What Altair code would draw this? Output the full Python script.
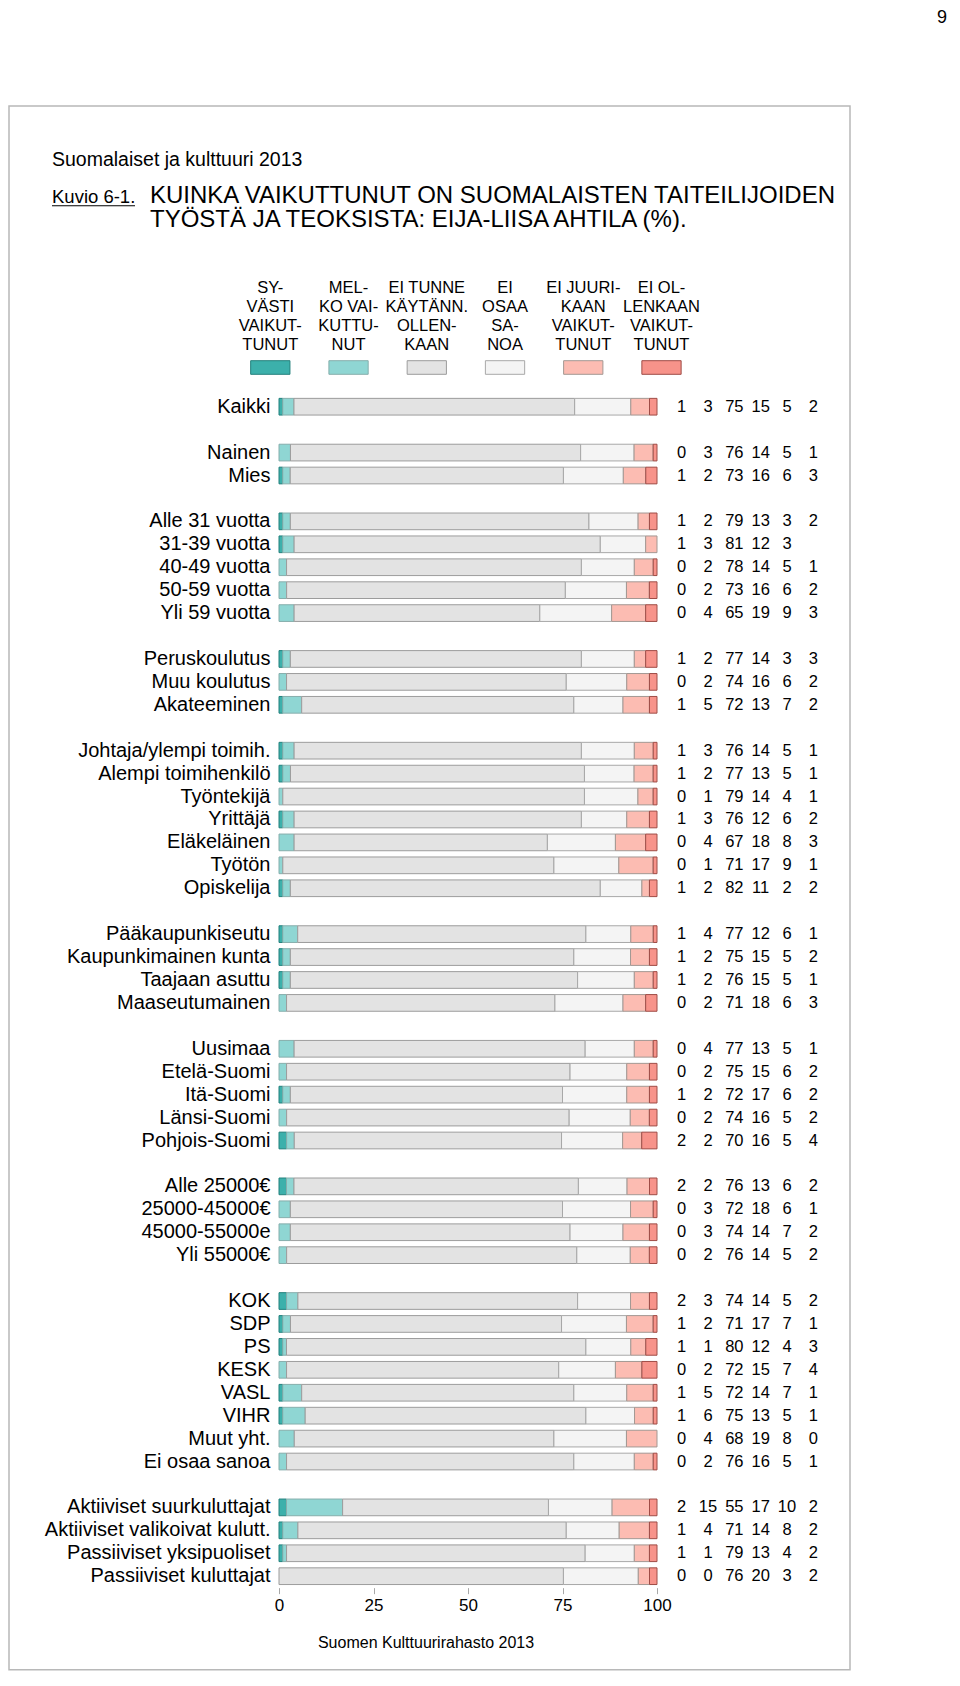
import altair as alt
import pandas as pd

# ---------------- data ----------------
group_total = ["Kaikki"]
group_gender = ["Nainen", "Mies"]
group_age = ["Alle 31 vuotta", "31-39 vuotta", "40-49 vuotta", "50-59 vuotta", "Yli 59 vuotta"]
group_edu = ["Peruskoulutus", "Muu koulutus", "Akateeminen"]
group_occ = ["Johtaja/ylempi toimih.", "Alempi toimihenkilö", "Työntekijä", "Yrittäjä",
             "Eläkeläinen", "Työtön", "Opiskelija"]
group_area = ["Pääkaupunkiseutu", "Kaupunkimainen kunta", "Taajaan asuttu", "Maaseutumainen"]
group_region = ["Uusimaa", "Etelä-Suomi", "Itä-Suomi", "Länsi-Suomi", "Pohjois-Suomi"]
group_income = ["Alle 25000€", "25000-45000€", "45000-55000e", "Yli 55000€"]
group_party = ["KOK", "SDP", "PS", "KESK", "VASL", "VIHR", "Muut yht.", "Ei osaa sanoa"]
group_culture = ["Aktiiviset suurkuluttajat", "Aktiiviset valikoivat kulutt.",
                 "Passiiviset yksipuoliset", "Passiiviset kuluttajat"]
groups = [group_total, group_gender, group_age, group_edu, group_occ, group_area,
          group_region, group_income, group_party, group_culture]

syvasti = [1, 0, 1, 1, 1, 0, 0, 0, 1, 0, 1, 1, 1, 0, 1, 0, 0, 1, 1, 1, 1, 0,
           0, 0, 1, 0, 2, 2, 0, 0, 0, 2, 1, 1, 0, 1, 1, 0, 0, 2, 1, 1, 0]
melko = [3, 3, 2, 2, 3, 2, 2, 4, 2, 2, 5, 3, 2, 1, 3, 4, 1, 2, 4, 2, 2, 2,
         4, 2, 2, 2, 2, 2, 3, 3, 2, 3, 2, 1, 2, 5, 6, 4, 2, 15, 4, 1, 0]
ei_tunne = [75, 76, 73, 79, 81, 78, 73, 65, 77, 74, 72, 76, 77, 79, 76, 67, 71, 82, 77, 75, 76, 71,
            77, 75, 72, 74, 70, 76, 72, 74, 76, 74, 71, 80, 72, 72, 75, 68, 76, 55, 71, 79, 76]
ei_osaa = [15, 14, 16, 13, 12, 14, 16, 19, 14, 16, 13, 14, 13, 14, 12, 18, 17, 11, 12, 15, 15, 18,
           13, 15, 17, 16, 16, 13, 18, 14, 14, 14, 17, 12, 15, 14, 13, 19, 16, 17, 14, 13, 20]
ei_juurikaan = [5, 5, 6, 3, 3, 5, 6, 9, 3, 6, 7, 5, 5, 4, 6, 8, 9, 2, 6, 5, 5, 6,
                5, 6, 6, 5, 5, 6, 6, 7, 5, 5, 7, 4, 7, 7, 5, 8, 5, 10, 8, 4, 3]
ei_olenkaan = [2, 1, 3, 2, None, 1, 2, 3, 3, 2, 2, 1, 1, 1, 2, 3, 1, 2, 1, 2, 1, 3,
               1, 2, 2, 2, 4, 2, 1, 2, 2, 2, 1, 3, 4, 1, 1, 0, 1, 2, 2, 2, 2]

categories = ["Syvästi vaikuttunut", "Melko vaikuttunut", "Ei tunne käytännössä ollenkaan",
              "Ei osaa sanoa", "Ei juurikaan vaikuttunut", "Ei olenkaan vaikuttunut"]
legend_headers = [
    ["SY-", "VÄSTI", "VAIKUT-", "TUNUT"],
    ["MEL-", "KO VAI-", "KUTTU-", "NUT"],
    ["EI TUNNE", "KÄYTÄNN.", "OLLEN-", "KAAN"],
    ["EI", "OSAA", "SA-", "NOA"],
    ["EI JUURI-", "KAAN", "VAIKUT-", "TUNUT"],
    ["EI OL-", "LENKAAN", "VAIKUT-", "TUNUT"],
]
fill_colors = ["#3cb0ab", "#8fd6d3", "#e3e3e3", "#f4f4f4", "#fcbcb2", "#f7938a"]
stroke_colors = ["#23807c", "#86aeac", "#9c9c9c", "#a8a8a8", "#a39893", "#9e4c46"]
tick_values = [0, 25, 50, 75, 100]

page_title = "Suomalaiset ja kulttuuri 2013"
figure_no = "Kuvio 6-1."
title_lines = ["KUINKA VAIKUTTUNUT ON SUOMALAISTEN TAITEILIJOIDEN",
               "TYÖSTÄ JA TEOKSISTA: EIJA-LIISA AHTILA (%)."]
source_text = "Suomen Kulttuurirahasto 2013"
page_number = "9"

FONT = "Liberation Sans, Arial, Helvetica, sans-serif"

# ---------------- tables ----------------
domain = []
labels = []
for gi, g in enumerate(groups):
    if gi > 0:
        domain.append(f"#{gi}")
    for lab in g:
        domain.append(lab)
        labels.append(lab)

series = [syvasti, melko, ei_tunne, ei_osaa, ei_juurikaan, ei_olenkaan]
recs = []
for ri, lab in enumerate(labels):
    for ci, s in enumerate(series):
        v = s[ri]
        if v is None:
            continue
        recs.append(dict(row=lab, ci=ci, cat=categories[ci], val=v, txt=str(v)))
df = pd.DataFrame(recs)

leg_df = pd.DataFrame({"ci": list(range(6)), "cat": categories})
hdr_recs = []
for ci, lines in enumerate(legend_headers):
    for li, t in enumerate(lines):
        hdr_recs.append(dict(ci=ci, line=li, txt=t))
hdr_df = pd.DataFrame(hdr_recs)

W = 378
H = 1192.4
P_IN = 0.272
yscale = alt.Scale(type="band", domain=domain, paddingInner=P_IN, paddingOuter=P_IN / 2)
fill_scale = alt.Scale(domain=categories, range=fill_colors)
stroke_scale = alt.Scale(domain=categories, range=stroke_colors)

bars = alt.Chart(df).transform_filter("datum.val > 0").mark_bar(strokeWidth=1).encode(
    x=alt.X("val:Q", stack="normalize",
            scale=alt.Scale(domain=[0, 1], nice=False),
            axis=alt.Axis(values=[v / 100 for v in tick_values],
                          labelExpr="format(datum.value*100, 'd')", labelFlush=False,
                          title=None, domain=False, grid=False, ticks=True,
                          tickSize=6, tickColor="#a8a8a8", labelFontSize=17,
                          labelPadding=4, labelFont=FONT, labelColor="#000")),
    y=alt.Y("row:N", scale=yscale,
            axis=alt.Axis(title=None, ticks=False, domain=False, labelFontSize=20,
                          labelPadding=9, labelLimit=0, labelFont=FONT, labelColor="#000",
                          labelExpr="indexof(datum.value, '#') == 0 ? '' : datum.value")),
    fill=alt.Fill("cat:N", scale=fill_scale, legend=None),
    stroke=alt.Stroke("cat:N", scale=stroke_scale, legend=None),
    order=alt.Order("ci:Q"),
)

vals = alt.Chart(df).mark_text(fontSize=16.5, font=FONT, align="center",
                               baseline="middle", color="#000").encode(
    x=alt.X("ci:Q", scale=alt.Scale(domain=[0, 5], range=[402.7, 534.3]), axis=None),
    y=alt.Y("row:N", scale=yscale, axis=None),
    text="txt:N",
)

swatches = alt.Chart(leg_df).transform_calculate(
    x0="datum.ci - 0.251", x1="datum.ci + 0.251"
).mark_rect(strokeWidth=1).encode(
    x=alt.X("x0:Q", scale=alt.Scale(domain=[0, 5], range=[-8.7, 382.5]), axis=None),
    x2="x1:Q",
    y=alt.value(-34.55), y2=alt.value(-20.95),
    fill=alt.Fill("cat:N", scale=fill_scale, legend=None),
    stroke=alt.Stroke("cat:N", scale=stroke_scale, legend=None),
)

headers = alt.Chart(hdr_df).mark_text(font=FONT, fontSize=16.5, baseline="middle",
                                      align="center", color="#000").encode(
    x=alt.X("ci:Q", scale=alt.Scale(domain=[0, 5], range=[-8.7, 382.5]), axis=None),
    y=alt.Y("line:Q", scale=alt.Scale(domain=[0, 3], range=[-107.55, -50.25]), axis=None),
    text="txt:N",
)

one = pd.DataFrame({"k": [0]})
frame = alt.Chart(one).mark_rect(fillOpacity=0, stroke="#b8b8b8", strokeWidth=1.5).encode(
    x=alt.value(-270), x2=alt.value(571), y=alt.value(-289.25), y2=alt.value(1274.5))


def label(text, x, y, size, align="left", baseline="alphabetic"):
    return alt.Chart(pd.DataFrame({"t": [text]})).mark_text(
        font=FONT, fontSize=size, align=align, baseline=baseline, color="#000"
    ).encode(text="t:N", x=alt.value(x), y=alt.value(y))


t_page = label(page_number, 668, -386, 18, align="right", baseline="top")
t_sub = label(page_title, -227, -229.75, 19.5)
t_fig = label(figure_no, -227, -192, 18.5)
underline = alt.Chart(one).mark_rule(color="#000", strokeWidth=1).encode(
    x=alt.value(-227), x2=alt.value(-144), y=alt.value(-189.5))
t_l1 = label(title_lines[0], -129, -192, 24)
t_l2 = label(title_lines[1], -129, -168, 24)
t_src = label(source_text, 147, 1247.75, 16, align="center", baseline="middle")

chart = alt.layer(
    frame, t_page, t_sub, t_fig, underline, t_l1, t_l2, headers, swatches, bars, vals, t_src
).resolve_scale(x="independent", y="independent").properties(
    width=W, height=H,
    padding={"left": 271, "top": 387.25, "right": 294, "bottom": 84.35},
    autosize=alt.AutoSizeParams(type="none"),
).configure_view(stroke=None)

chart.save("out.html", embed_options={"renderer": "svg", "actions": False})
